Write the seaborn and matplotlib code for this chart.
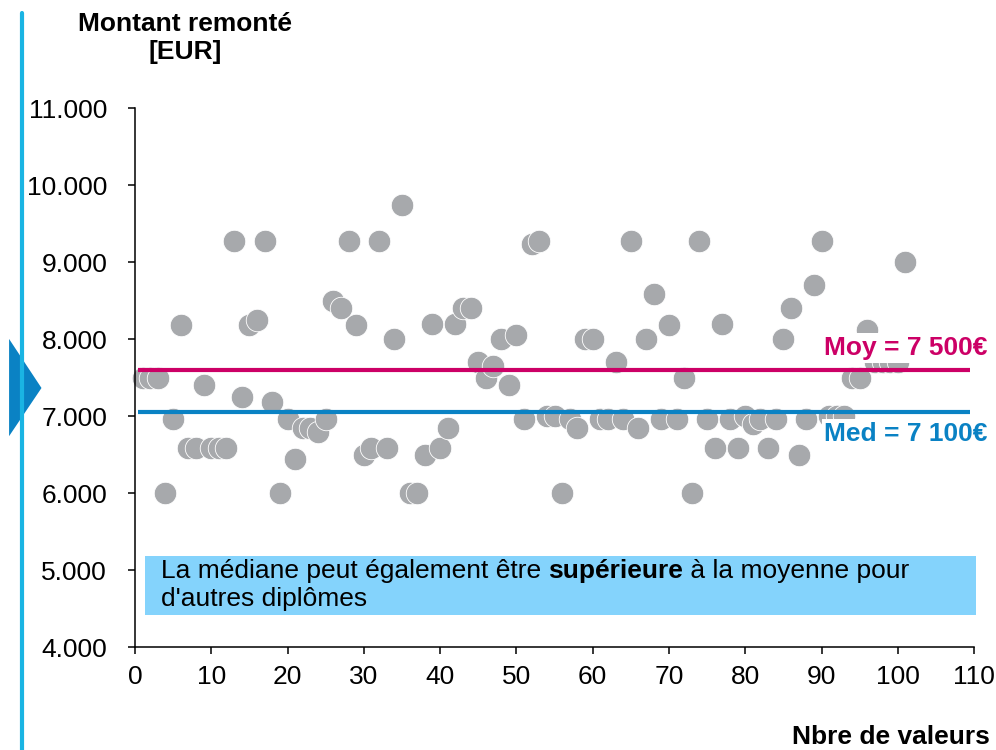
import numpy as np
import pandas as pd
import matplotlib
matplotlib.use("Agg")
import matplotlib.pyplot as plt
import seaborn as sns
from matplotlib.patches import Rectangle, Polygon
from matplotlib.lines import Line2D
from matplotlib.ticker import FuncFormatter

# montant remonté par valeur (EUR), valeurs 1..101
montants = [
    7500, 7500, 7500, 6000, 6960, 8180, 6580, 6580, 7400, 6580,
    6580, 6580, 9280, 7250, 8180, 8250, 9280, 7190, 6000, 6960,
    6450, 6850, 6850, 6800, 6960, 8500, 8400, 9280, 8180, 6500,
    6580, 9280, 6580, 8000, 9740, 6000, 6000, 6500, 8200, 6580,
    6850, 8200, 8400, 8400, 7700, 7500, 7650, 8000, 7400, 8050,
    6960, 9230, 9280, 7000, 7000, 6000, 6960, 6850, 8000, 8000,
    6960, 6960, 7700, 6960, 9280, 6850, 8000, 8580, 6960, 8180,
    6960, 7500, 6000, 9280, 6960, 6580, 8200, 6960, 6580, 7000,
    6900, 6960, 6590, 6960, 8000, 8400, 6500, 6960, 8700, 9280,
    7000, 7000, 7000, 7500, 7500, 8120, 7700, 7700, 7700, 7700,
    9000,
]
valeurs = np.arange(1, len(montants) + 1)

ligne_moy = 7600
ligne_med = 7050
label_moy = "Moy = 7 500€"
label_med = "Med = 7 100€"

x_ticks = [0, 10, 20, 30, 40, 50, 60, 70, 80, 90, 100, 110]
y_ticks = [4000, 5000, 6000, 7000, 8000, 9000, 10000, 11000]

GRIS = "#A7A9AC"
ROSE = "#CC0066"
BLEU = "#0A82C4"
CYAN = "#1AB4E3"
BOITE = "#84D3FC"
FS = 19

sns.set_style("ticks")
plt.rcParams["font.family"] = ["Liberation Sans", "DejaVu Sans"]
plt.rcParams["text.color"] = "black"

df = pd.DataFrame({"Nbre": valeurs, "Montant": montants})

fig = plt.figure(figsize=(9.96, 7.5), dpi=100)
ax = fig.add_axes([0.1355, 0.137, 0.978 - 0.1355, 0.856 - 0.137])

sns.scatterplot(data=df, x="Nbre", y="Montant", ax=ax, s=262,
                color=GRIS, edgecolor="white", linewidth=0.6, zorder=2,
                clip_on=False)

ax.plot([0.4, 109.4], [ligne_moy, ligne_moy], color=ROSE, lw=3, zorder=3,
        solid_capstyle="butt")
ax.plot([0.4, 109.4], [ligne_med, ligne_med], color=BLEU, lw=3, zorder=3,
        solid_capstyle="butt")

ax.text(111.8, 7882, label_moy, color=ROSE, fontsize=FS, fontweight="bold",
        ha="right", va="center", zorder=4, clip_on=False,
        bbox=dict(facecolor="white", edgecolor="none", pad=2))
ax.text(111.8, 6767, label_med, color=BLEU, fontsize=FS, fontweight="bold",
        ha="right", va="center", zorder=4, clip_on=False,
        bbox=dict(facecolor="white", edgecolor="none", pad=2))

# encadré texte
ax.add_patch(Rectangle((1.31, 4423), 110.3 - 1.31, 5184 - 4423,
                       facecolor=BOITE, edgecolor="none", zorder=4, clip_on=False))
t1 = ax.text(3.4, 4990, "La médiane peut également être ", fontsize=FS,
             ha="left", va="center", zorder=5, color="black")
t2 = ax.annotate("supérieure", xycoords=t1, xy=(1, 0), va="bottom", ha="left",
                 fontsize=FS, fontweight="bold", zorder=5, color="black")
ax.annotate(" à la moyenne pour", xycoords=t2, xy=(1, 0), va="bottom", ha="left",
            fontsize=FS, zorder=5, color="black")
ax.text(3.4, 4626, "d'autres diplômes", fontsize=FS, ha="left", va="center",
        zorder=5, color="black")

ax.set_xlim(0, 110)
ax.set_ylim(4000, 11000)
ax.set_xticks(x_ticks)
ax.set_yticks(y_ticks)
ax.yaxis.set_major_formatter(FuncFormatter(lambda v, p: f"{v:,.0f}".replace(",", ".")))
ax.tick_params(axis="both", labelsize=FS, length=5, width=1.1, colors="black",
               labelcolor="black")
ax.tick_params(axis="y", pad=15)
ax.tick_params(axis="x", pad=8)
ax.set_xlabel("")
ax.set_ylabel("")
sns.despine(ax=ax)
for s in ["left", "bottom"]:
    ax.spines[s].set_linewidth(1.1)
    ax.spines[s].set_color("black")

fig.text(185 / 996, 1 - 24 / 750, "Montant remonté", fontsize=FS,
         fontweight="bold", ha="center", va="center", color="black")
fig.text(185 / 996, 1 - 52 / 750, "[EUR]", fontsize=FS,
         fontweight="bold", ha="center", va="center", color="black")
fig.text(990 / 996, 1 - 737 / 750, "Nbre de valeurs", fontsize=FS,
         fontweight="bold", ha="right", va="center", color="black")

# décor à gauche
fig.add_artist(Line2D([22 / 996, 22 / 996], [0, 1 - 13 / 750], color=CYAN, lw=3,
                      transform=fig.transFigure))
tri = Polygon([(7 / 996, 1 - 332 / 750), (44 / 996, 1 - 388 / 750), (7 / 996, 1 - 443 / 750)],
              closed=True, facecolor=BLEU, edgecolor="white", lw=3,
              transform=fig.transFigure)
fig.add_artist(tri)

fig.savefig("out.png", dpi=100)
